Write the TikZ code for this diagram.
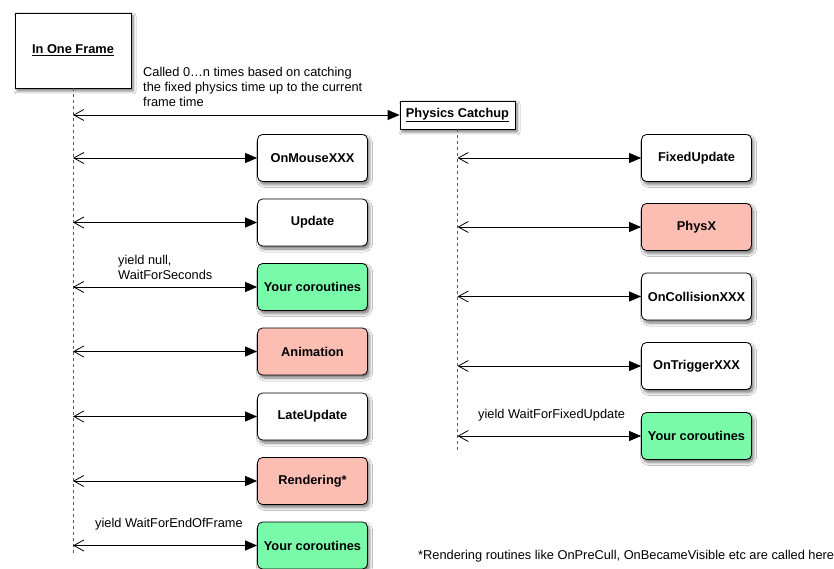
\documentclass[tikz,border=0pt]{standalone}
\usepackage{fontspec}
\setmainfont{Liberation Sans}
\usetikzlibrary{arrows.meta,shadows.blur}
\definecolor{greenbox}{HTML}{78FAA8}
\definecolor{redbox}{HTML}{FCBDB3}
\tikzset{
  box/.style={draw=black, line width=0.8pt, fill=white, minimum width=110pt, minimum height=47pt,
    font=\fontsize{12.8}{15}\selectfont\bfseries, inner sep=2pt,
    blur shadow={shadow blur steps=6, shadow blur radius=3pt, shadow opacity=55,
      shadow xshift=2pt, shadow yshift=-3pt}},
  callbox/.style={box, rounded corners=5pt},
  green/.style={fill=greenbox},
  red/.style={fill=redbox},
  lifeline/.style={draw=black!65, dashed, dash pattern=on 3pt off 3pt, line width=0.8pt},
  msg/.style={draw=black, line width=0.8pt,
    {Straight Barb[length=10pt,width=11pt,line width=0.8pt]}-{Triangle[length=12pt,width=10pt]}},
  note/.style={font=\fontsize{12.8}{15}\selectfont, align=left, anchor=south west, inner sep=0pt}
}
\begin{document}
\begin{tikzpicture}[x=1pt,y=-1pt]
\useasboundingbox (0,0) rectangle (834,569);
\fill[white] (0,0) rectangle (834,569);
\clip (0,0) rectangle (834,569);

% lifeline heads
\node[box, minimum width=116pt, minimum height=75pt] (frame) at (73,50.5) {\underline{In One Frame}};
\node[box, minimum width=115pt, minimum height=28pt] (phys) at (457.5,115) {\underline{Physics Catchup}};

% lifelines
\coordinate (fend) at (73,556);
\coordinate (pend) at (457.5,451);
\draw[lifeline] (frame.south) -- (fend);
\draw[lifeline] (phys.south) -- (pend);

% calls made once per frame
\node[callbox] (mouse)  at (312.5,158) {OnMouseXXX};
\node[callbox] (update) at (312.5,222.5) {Update};
\node[callbox, green] (co1) at (312.5,287) {Your coroutines};
\node[callbox, red] (anim) at (312.5,351.5) {Animation};
\node[callbox] (late) at (312.5,416.5) {LateUpdate};
\node[callbox, red] (render) at (312.5,481) {Rendering*};
\node[callbox, green] (co3) at (312.5,545.5) {Your coroutines};

% physics catch-up calls
\node[callbox] (fixed) at (696.5,158) {FixedUpdate};
\node[callbox, red] (physx) at (696.5,227) {PhysX};
\node[callbox] (coll) at (696.5,296.5) {OnCollisionXXX};
\node[callbox] (trig) at (696.5,366) {OnTriggerXXX};
\node[callbox, green] (co2) at (696.5,436) {Your coroutines};

% messages from the frame lifeline
\foreach \n in {phys,mouse,update,co1,anim,late,render,co3}
  \draw[msg] (73,0 |- \n.west) -- (\n.west);
% messages from the physics lifeline
\foreach \n in {fixed,physx,coll,trig,co2}
  \draw[msg] (457.5,0 |- \n.west) -- (\n.west);

% annotations
\node[note] (called) at (143,107) {Called 0\ldots n times based on catching\\the fixed physics time up to the current\\frame time};
\node[note] (ynull) at (118,280) {yield null,\\WaitForSeconds};
\node[note] (yfixed) at (478,421) {yield WaitForFixedUpdate};
\node[note] (yend) at (95,530) {yield WaitForEndOfFrame};
\node[note] (foot) at (418,562) {*Rendering routines like OnPreCull, OnBecameVisible etc are called here};
\end{tikzpicture}
\end{document}
